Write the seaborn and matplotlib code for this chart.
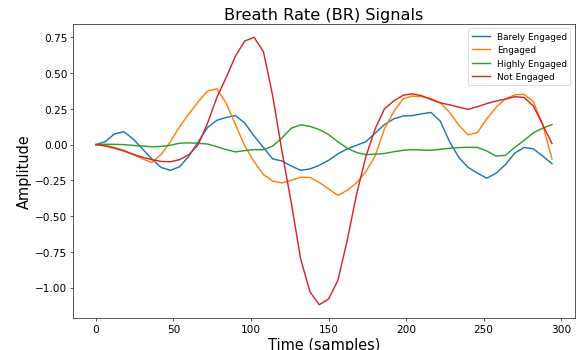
import numpy as np
import pandas as pd
import matplotlib
matplotlib.use("Agg")
import matplotlib.pyplot as plt
import seaborn as sns

# samples every 6 time steps
time = list(range(0, 295, 6))

barely_engaged = [0, 0.02, 0.075, 0.09, 0.04, -0.03, -0.1, -0.16, -0.18, -0.155,
                  -0.08, 0.02, 0.12, 0.17, 0.19, 0.203, 0.15, 0.06, -0.02, -0.1,
                  -0.115, -0.15, -0.18, -0.17, -0.145, -0.11, -0.065, -0.03, -0.005, 0.02,
                  0.08, 0.14, 0.18, 0.2, 0.203, 0.215, 0.225, 0.164, 0.02, -0.09,
                  -0.16, -0.2, -0.235, -0.2, -0.14, -0.06, -0.02, -0.03, -0.08, -0.133]

engaged = [0, -0.005, -0.02, -0.04, -0.068, -0.1, -0.125, -0.07, 0.02, 0.125,
           0.215, 0.3, 0.375, 0.39, 0.29, 0.14, -0.01, -0.12, -0.21, -0.255,
           -0.268, -0.25, -0.228, -0.23, -0.265, -0.31, -0.355, -0.32, -0.268, -0.19,
           -0.08, 0.11, 0.23, 0.32, 0.34, 0.335, 0.322, 0.292, 0.225, 0.135,
           0.068, 0.085, 0.18, 0.26, 0.32, 0.348, 0.352, 0.3, 0.14, -0.1]

highly_engaged = [0, 0.002, 0.002, 0, -0.006, -0.01, -0.015, -0.013, -0.005, 0.01,
                  0.012, 0.009, 0.004, -0.015, -0.035, -0.051, -0.042, -0.035, -0.036, -0.01,
                  0.047, 0.115, 0.138, 0.128, 0.105, 0.07, 0.02, -0.025, -0.055, -0.07,
                  -0.067, -0.062, -0.05, -0.04, -0.035, -0.038, -0.04, -0.033, -0.026, -0.021,
                  -0.019, -0.02, -0.045, -0.08, -0.075, -0.02, 0.03, 0.082, 0.115, 0.14]

not_engaged = [0, -0.01, -0.025, -0.045, -0.068, -0.088, -0.105, -0.118, -0.12, -0.105,
               -0.07, 0.0, 0.15, 0.33, 0.47, 0.62, 0.725, 0.75, 0.65, 0.34,
               -0.05, -0.41, -0.8, -1.03, -1.12, -1.08, -0.95, -0.67, -0.35, -0.085,
               0.11, 0.25, 0.305, 0.345, 0.355, 0.342, 0.315, 0.292, 0.278, 0.262,
               0.247, 0.265, 0.287, 0.305, 0.318, 0.335, 0.33, 0.27, 0.14, 0.007]

series = {
    'Barely Engaged': barely_engaged,
    'Engaged': engaged,
    'Highly Engaged': highly_engaged,
    'Not Engaged': not_engaged,
}

frames = [pd.DataFrame({'Time': time, 'Amplitude': vals, 'Label': name})
          for name, vals in series.items()]
df = pd.concat(frames, ignore_index=True)

fig, ax = plt.subplots(figsize=(10, 6.05), dpi=58)
sns.lineplot(data=df, x='Time', y='Amplitude', hue='Label',
             hue_order=list(series.keys()), ax=ax, linewidth=1.8)

ax.set_title('Breath Rate (BR) Signals', fontsize=20)
ax.set_xlabel('Time (samples)', fontsize=18)
ax.set_ylabel('Amplitude', fontsize=18)
ax.tick_params(labelsize=13)
ax.set_xticks([0, 50, 100, 150, 200, 250, 300])
ax.legend(loc='upper right', fontsize=11)

fig.subplots_adjust(left=0.126, right=0.991, top=0.929, bottom=0.091)
fig.savefig('out.png', dpi=58)
